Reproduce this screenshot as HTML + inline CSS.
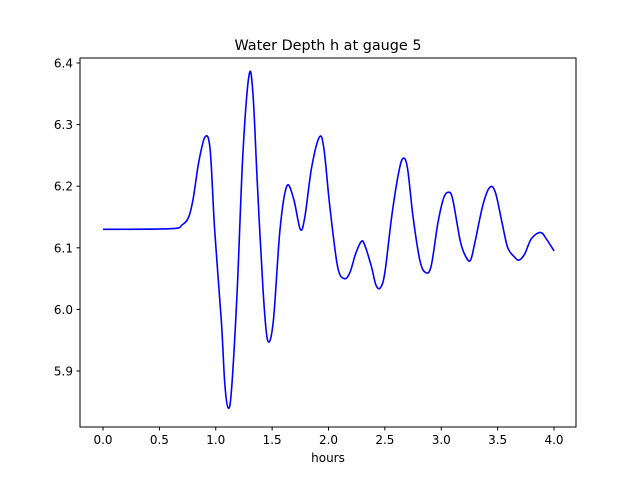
<!DOCTYPE html>
<html><head><meta charset="utf-8"><style>
body{margin:0;background:#fff;}
svg text{font-family:"DejaVu Sans","Liberation Sans",sans-serif;}
</style></head><body>
<svg id="chart" width="640" height="480" viewBox="0 0 640 480">
<rect width="640" height="480" fill="#fff"/>
<text x="328" y="50" font-size="14.4" text-anchor="middle">Water Depth h at gauge 5</text>
<g id="ticks"></g>
<path id="line" fill="none" stroke="#0000ff" stroke-width="1.6"/>
<rect x="80" y="58" width="496" height="369" fill="none" stroke="#000" stroke-width="1"/>
<text x="328" y="462" font-size="12" text-anchor="middle">hours</text>
</svg>
<script>
const hours=[0,0.6,0.7,0.76,0.8,0.85,0.905,0.95,0.99,1.05,1.08,1.11,1.14,1.19,1.24,1.295,1.33,1.37,1.42,1.46,1.51,1.57,1.63,1.69,1.75,1.79,1.85,1.92,1.96,2.01,2.08,2.14,2.19,2.24,2.29,2.32,2.38,2.42,2.46,2.50,2.56,2.62,2.66,2.70,2.75,2.81,2.86,2.91,2.97,3.02,3.06,3.10,3.17,3.22,3.26,3.30,3.37,3.43,3.48,3.54,3.59,3.65,3.69,3.74,3.80,3.88,3.93,4.0];
const depth=[6.13,6.131,6.137,6.15,6.18,6.24,6.28,6.26,6.13,5.98,5.88,5.84,5.87,6.03,6.25,6.38,6.35,6.20,6.03,5.95,5.98,6.13,6.20,6.18,6.13,6.15,6.23,6.28,6.26,6.17,6.07,6.05,6.06,6.09,6.11,6.105,6.07,6.04,6.035,6.06,6.15,6.22,6.245,6.23,6.15,6.08,6.06,6.07,6.14,6.18,6.19,6.18,6.11,6.085,6.08,6.11,6.17,6.198,6.19,6.14,6.10,6.085,6.08,6.09,6.115,6.125,6.115,6.095];
const xTicks=[0,0.5,1,1.5,2,2.5,3,3.5,4];
const xTickLabels=["0.0","0.5","1.0","1.5","2.0","2.5","3.0","3.5","4.0"];
const yTicks=[5.9,6.0,6.1,6.2,6.3,6.4];
const yTickLabels=["5.9","6.0","6.1","6.2","6.3","6.4"];
const X=h=>103+h*112.75;
const Y=v=>371-(v-5.9)*616;
const ns="http://www.w3.org/2000/svg";
const g=document.getElementById('ticks');
function mk(t,a){const e=document.createElementNS(ns,t);for(const k in a)e.setAttribute(k,a[k]);g.appendChild(e);return e;}
xTicks.forEach((t,i)=>{
 const l=mk('line',{x1:X(t),x2:X(t),y1:427,y2:430.5,stroke:'#000'});
 
 
 const tx=mk('text',{x:X(t),y:444,'font-size':12,'text-anchor':'middle'});
 tx.textContent=xTickLabels[i];
 
 
});
yTicks.forEach((t,i)=>{
 const l=mk('line',{x1:76.5,x2:80,y1:Y(t),y2:Y(t),stroke:'#000'});
 
 
 const tx=mk('text',{x:73,y:Y(t)+4.5,'font-size':12,'text-anchor':'end'});
 tx.textContent=yTickLabels[i];
 
 
});
const P=hours.map((h,i)=>[X(h),Y(depth[i])]);
let d='M'+P[0][0]+','+P[0][1];
for(let i=0;i<P.length-1;i++){
 const p0=P[Math.max(0,i-1)],p1=P[i],p2=P[i+1],p3=P[Math.min(P.length-1,i+2)];
 const c1=[p1[0]+(p2[0]-p0[0])/6,p1[1]+(p2[1]-p0[1])/6];
 const c2=[p2[0]-(p3[0]-p1[0])/6,p2[1]-(p3[1]-p1[1])/6];
 d+=`C${c1[0]},${c1[1]} ${c2[0]},${c2[1]} ${p2[0]},${p2[1]}`;
}
document.getElementById('line').setAttribute('d',d);
</script>
</body></html>
